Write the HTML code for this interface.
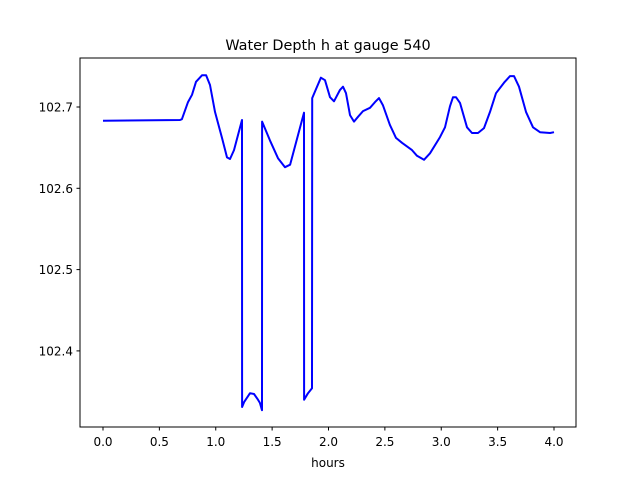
<!DOCTYPE html>
<html><head><meta charset="utf-8"><style>
body{margin:0;background:#fff;}
svg text{font-family:"DejaVu Sans","Liberation Sans",sans-serif;fill:#000;}
</style></head><body>
<svg id="chart" width="640" height="480" viewBox="0 0 640 480">
<rect width="640" height="480" fill="#fff"/>
<text x="328" y="50" font-size="14.4" text-anchor="middle">Water Depth h at gauge 540</text>
<g id="plot"></g>
<rect x="80" y="58" width="496" height="369" fill="none" stroke="#000" stroke-width="1"/>
<g id="xticks"></g>
<g id="yticks"></g>
<text x="328" y="467" font-size="12" text-anchor="middle">hours</text>
</svg>
<script>
const hours=[0.0,0.683,0.70,0.754,0.789,0.825,0.878,0.914,0.949,0.993,1.055,1.100,1.126,1.162,1.233,1.234,1.251,1.304,1.339,1.375,1.392,1.410,1.411,1.480,1.552,1.614,1.659,1.694,1.783,1.784,1.818,1.854,1.855,1.889,1.933,1.969,2.013,2.049,2.102,2.129,2.155,2.191,2.226,2.262,2.306,2.368,2.412,2.448,2.483,2.545,2.599,2.652,2.741,2.785,2.847,2.900,2.989,3.033,3.078,3.104,3.131,3.166,3.228,3.273,3.326,3.379,3.432,3.486,3.557,3.610,3.645,3.690,3.752,3.814,3.876,3.965,4.0];
const depth=[102.683,102.684,102.685,102.706,102.715,102.731,102.739,102.739,102.727,102.694,102.662,102.638,102.636,102.647,102.684,102.331,102.337,102.348,102.347,102.340,102.336,102.327,102.682,102.659,102.637,102.626,102.629,102.647,102.693,102.340,102.348,102.354,102.711,102.722,102.736,102.733,102.712,102.707,102.721,102.725,102.717,102.690,102.682,102.688,102.695,102.699,102.706,102.711,102.702,102.678,102.662,102.656,102.647,102.640,102.635,102.643,102.663,102.675,102.701,102.712,102.712,102.705,102.675,102.668,102.668,102.674,102.694,102.717,102.730,102.738,102.738,102.725,102.694,102.675,102.669,102.668,102.669];
const xTickVals=[0,0.5,1,1.5,2,2.5,3,3.5,4];
const xTickLabels=["0.0","0.5","1.0","1.5","2.0","2.5","3.0","3.5","4.0"];
const yTickVals=[102.4,102.5,102.6,102.7];
const yTickLabels=["102.4","102.5","102.6","102.7"];
const NS="http://www.w3.org/2000/svg";
function xs(v){return 103+v*112.75;}
function ys(v){return 107-(v-102.7)*813;}
const plot=document.getElementById('plot');
const line=document.createElementNS(NS,'polyline');


line.setAttribute('points',hours.map((h,i)=>xs(h).toFixed(1)+','+ys(depth[i]).toFixed(1)).join(' '));
line.setAttribute('fill','none');line.setAttribute('stroke','#0000ff');line.setAttribute('stroke-width','2');line.setAttribute('stroke-linejoin','round');
plot.appendChild(line);
const xg=document.getElementById('xticks');
xTickVals.forEach((v,i)=>{
 const t=document.createElementNS(NS,'line');
 
 
 t.setAttribute('x1',xs(v));t.setAttribute('x2',xs(v));t.setAttribute('y1',427);t.setAttribute('y2',430.5);t.setAttribute('stroke','#000');
 xg.appendChild(t);
 const l=document.createElementNS(NS,'text');
 
 
 l.setAttribute('x',xs(v));l.setAttribute('y',446);l.setAttribute('font-size','12');l.setAttribute('text-anchor','middle');
 l.textContent=xTickLabels[i];xg.appendChild(l);
});
const yg=document.getElementById('yticks');
yTickVals.forEach((v,i)=>{
 const t=document.createElementNS(NS,'line');
 
 
 t.setAttribute('x1',76.5);t.setAttribute('x2',80);t.setAttribute('y1',ys(v));t.setAttribute('y2',ys(v));t.setAttribute('stroke','#000');
 yg.appendChild(t);
 const l=document.createElementNS(NS,'text');
 
 
 l.setAttribute('x',73);l.setAttribute('y',ys(v)+4.5);l.setAttribute('font-size','12');l.setAttribute('text-anchor','end');
 l.textContent=yTickLabels[i];yg.appendChild(l);
});
</script>
</body></html>
